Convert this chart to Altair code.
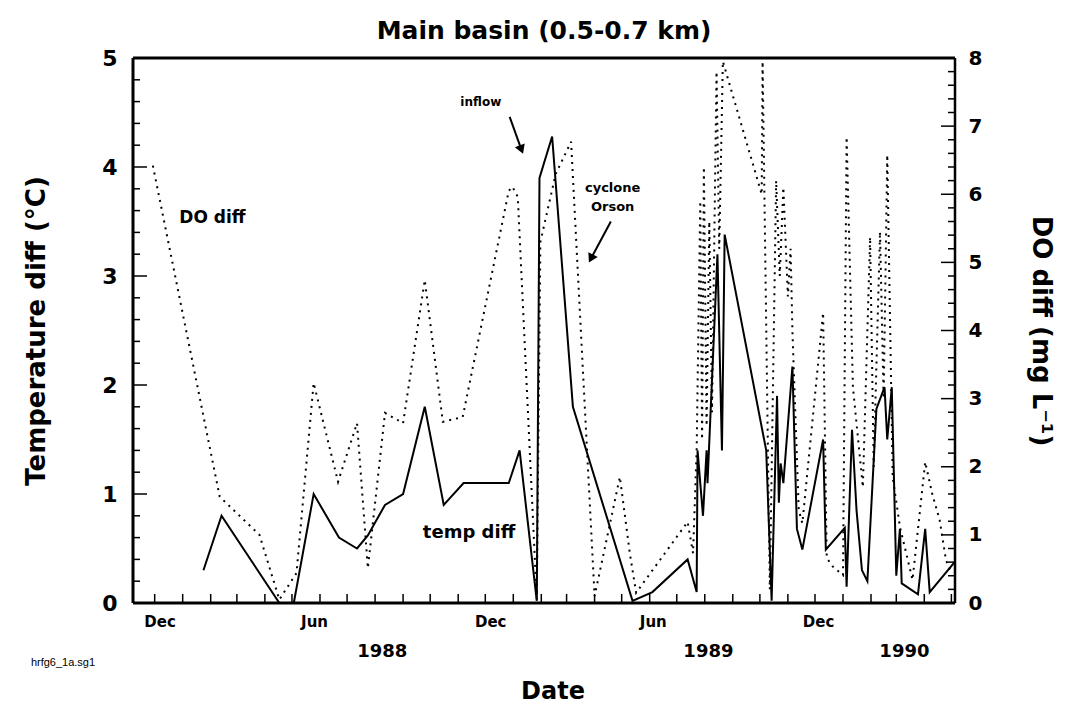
import altair as alt
import pandas as pd

# ---------------- data ----------------
temp_dates = ["1988-01-24", "1988-02-13", "1988-04-17", "1988-05-03", "1988-05-25",
              "1988-06-22", "1988-07-12", "1988-07-24", "1988-08-12", "1988-09-01",
              "1988-09-25", "1988-10-16", "1988-11-07", "1988-12-27", "1989-01-08",
              "1989-01-27", "1989-01-30", "1989-02-13", "1989-03-08", "1989-05-13",
              "1989-06-04", "1989-07-13", "1989-07-23", "1989-07-24", "1989-07-30",
              "1989-08-03", "1989-08-04", "1989-08-15", "1989-08-20", "1989-08-23",
              "1989-10-08", "1989-10-14", "1989-10-20", "1989-10-22", "1989-10-24",
              "1989-10-27", "1989-11-06", "1989-11-11", "1989-11-17", "1989-12-10",
              "1989-12-13", "1990-01-03", "1990-01-05", "1990-01-11", "1990-01-16",
              "1990-01-22", "1990-01-28", "1990-02-07", "1990-02-16", "1990-02-19",
              "1990-02-24", "1990-03-01", "1990-03-05", "1990-03-07", "1990-03-25",
              "1990-04-02", "1990-04-07", "1990-05-05"]
temp_vals = [0.3, 0.8, 0.0, 0.0, 1.0,
             0.6, 0.5, 0.62, 0.9, 1.0,
             1.8, 0.9, 1.1, 1.1, 1.4,
             0.02, 3.9, 4.28, 1.8, 0.02,
             0.1, 0.4, 0.1, 1.4, 0.8,
             1.4, 1.1, 3.2, 1.4, 3.38,
             1.4, 0.02, 1.9, 0.92, 1.28,
             1.1, 2.17, 0.68, 0.49, 1.5,
             0.49, 0.69, 0.15, 1.59, 0.85,
             0.3, 0.2, 1.78, 1.98, 1.5,
             1.98, 0.25, 0.68, 0.18, 0.08,
             0.68, 0.1, 0.38]

do_dates = ["1987-11-29", "1988-02-11", "1988-03-26", "1988-04-17", "1988-05-06",
            "1988-05-25", "1988-06-04", "1988-06-21", "1988-07-12", "1988-07-24",
            "1988-08-12", "1988-09-01", "1988-09-25", "1988-10-15", "1988-11-06",
            "1988-12-27", "1988-12-31", "1989-01-06", "1989-01-27", "1989-01-31",
            "1989-02-17", "1989-03-06", "1989-04-01", "1989-04-29", "1989-05-10",
            "1989-05-17", "1989-07-13", "1989-07-19", "1989-07-23", "1989-07-27",
            "1989-07-29", "1989-07-31", "1989-08-03", "1989-08-06", "1989-08-09",
            "1989-08-14", "1989-08-17", "1989-08-21", "1989-10-03", "1989-10-04",
            "1989-10-12", "1989-10-19", "1989-10-23", "1989-10-27", "1989-11-01",
            "1989-11-04", "1989-11-06", "1989-11-13", "1989-11-17", "1989-12-10",
            "1989-12-14", "1989-12-21", "1990-01-01", "1990-01-05", "1990-01-12",
            "1990-01-23", "1990-01-31", "1990-02-04", "1990-02-11", "1990-02-15",
            "1990-02-19", "1990-02-25", "1990-03-05", "1990-03-19", "1990-04-02",
            "1990-04-10", "1990-04-18", "1990-04-25", "1990-05-01"]
do_vals = [6.42, 1.56, 1.0, 0.05, 0.44,
           3.23, 2.69, 1.78, 2.64, 0.51,
           2.79, 2.64, 4.74, 2.66, 2.73,
           6.05, 6.11, 5.96, 0.05, 5.3,
           6.3, 6.77, 0.1, 1.85, 0.73,
           0.15, 1.19, 0.73, 2.25, 5.9,
           2.4, 6.4, 2.6, 5.6, 2.8,
           7.8, 5.2, 7.95, 6.0, 7.95,
           0.2, 6.2, 4.8, 6.1, 4.5,
           5.2, 4.0, 1.37, 1.17, 4.26,
           0.66, 0.53, 0.41, 6.84, 3.17,
           1.7, 5.37, 2.0, 5.45, 3.0,
           6.58, 1.85, 1.12, 0.34, 2.07,
           1.59, 1.22, 0.63, 0.44]

# axis labels / ticks
month_labels = ["Dec", "Jun", "Dec", "Jun", "Dec"]
month_label_dates = ["1987-12-07", "1988-05-26", "1988-12-07", "1989-06-05", "1989-12-05"]
year_labels = ["1988", "1989", "1990"]
year_label_dates = ["1988-08-09", "1989-08-05", "1990-03-10"]
left_major = [0, 1, 2, 3, 4, 5]
left_minor = [0.2, 0.4, 0.6, 0.8, 1.2, 1.4, 1.6, 1.8, 2.2, 2.4, 2.6, 2.8,
              3.2, 3.4, 3.6, 3.8, 4.2, 4.4, 4.6, 4.8]
right_major = [0, 1, 2, 3, 4, 5, 6, 7, 8]
right_minor = [0.2, 0.4, 0.6, 0.8, 1.2, 1.4, 1.6, 1.8, 2.2, 2.4, 2.6, 2.8,
               3.2, 3.4, 3.6, 3.8, 4.2, 4.4, 4.6, 4.8, 5.2, 5.4, 5.6, 5.8,
               6.2, 6.4, 6.6, 6.8, 7.2, 7.4, 7.6, 7.8]
month_tick_dates = ["1987-12-01", "1988-01-01", "1988-02-01", "1988-03-01", "1988-04-01",
                    "1988-05-01", "1988-06-01", "1988-07-01", "1988-08-01", "1988-09-01",
                    "1988-10-01", "1988-11-01", "1988-12-01", "1989-01-01", "1989-02-01",
                    "1989-03-01", "1989-04-01", "1989-05-01", "1989-06-01", "1989-07-01",
                    "1989-08-01", "1989-09-01", "1989-10-01", "1989-11-01", "1989-12-01",
                    "1990-01-01", "1990-02-01", "1990-03-01", "1990-04-01", "1990-05-01"]

# annotations
ann_labels = ["DO diff", "temp diff", "inflow", "cyclone", "Orson"]
ann_dates = ["1988-02-03", "1988-11-13", "1988-11-26", "1989-04-21", "1989-04-21"]
ann_vals = [3.53, 0.64, 4.6, 3.81, 3.63]
ann_sizes = [17, 18, 12, 13, 13]

arrow_tail_dates = ["1988-12-28", "1989-04-19"]
arrow_tail_vals = [4.46, 3.50]
arrow_head_dates = ["1989-01-10", "1989-03-28"]
arrow_head_vals = [4.16, 3.16]
arrow_angles = [339, 27]

# ---------------- chart ----------------
W, H = 822, 545
FONT = "DejaVu Sans"

temp_df = pd.DataFrame({"date": temp_dates, "temp": temp_vals})
do_df = pd.DataFrame({"date": do_dates, "do": do_vals})

x_scale = alt.Scale(type="utc", domain=[alt.DateTime(year=1987, month=11, date=7, utc=True),
                                        alt.DateTime(year=1990, month=5, date=5, utc=True)])
t_scale = alt.Scale(domain=[0, 5], nice=False)
d_scale = alt.Scale(domain=[0, 8], nice=False)

temp_line = alt.Chart(temp_df).mark_line(color="black", strokeWidth=2).encode(
    x=alt.X("date:T", scale=x_scale, axis=None),
    y=alt.Y("temp:Q", scale=t_scale,
            axis=alt.Axis(title="Temperature diff  (°C)", values=left_major, ticks=False,
                          domain=False, grid=False, labelPadding=16,
                          labelFont=FONT, labelFontSize=22, labelFontWeight="bold",
                          labelColor="black", titleFont=FONT, titleFontSize=26,
                          titleFontWeight="bold", titleColor="black", titlePadding=52)),
)

do_line = alt.Chart(do_df).mark_line(color="black", strokeWidth=2, strokeDash=[2, 5]).encode(
    x=alt.X("date:T", scale=x_scale, axis=None),
    y=alt.Y("do:Q", scale=d_scale,
            axis=alt.Axis(orient="right", title="DO diff  (mg L⁻¹)", values=right_major,
                          ticks=False, domain=False, grid=False, labelPadding=13,
                          labelFont=FONT, labelFontSize=20, labelFontWeight="bold",
                          labelColor="black", titleFont=FONT, titleFontSize=26,
                          titleFontWeight="bold", titleColor="black", titlePadding=46)),
)

ann_df = pd.DataFrame({"label": ann_labels, "date": ann_dates, "val": ann_vals, "fs": ann_sizes})
ann = alt.Chart(ann_df).mark_text(font=FONT, fontWeight="bold", color="black").encode(
    x=alt.X("date:T", scale=x_scale, axis=None),
    y=alt.Y("val:Q", scale=t_scale, axis=None),
    text="label:N",
    size=alt.Size("fs:Q", scale=None, legend=None),
)

arrow_df = pd.DataFrame({"d0": arrow_tail_dates, "v0": arrow_tail_vals,
                         "d1": arrow_head_dates, "v1": arrow_head_vals, "ang": arrow_angles})
shafts = alt.Chart(arrow_df).mark_rule(color="black", strokeWidth=2).encode(
    x=alt.X("d0:T", scale=x_scale, axis=None), x2="d1:T",
    y=alt.Y("v0:Q", scale=t_scale, axis=None), y2="v1:Q",
)
heads = alt.Chart(arrow_df).mark_point(shape="triangle-down", filled=True, color="black",
                                        size=110, opacity=1).encode(
    x=alt.X("d1:T", scale=x_scale, axis=None),
    y=alt.Y("v1:Q", scale=t_scale, axis=None),
    angle=alt.Angle("ang:Q", scale=None),
)

def yticks(vals, scale, x0, x1):
    return alt.Chart(pd.DataFrame({"v": vals})).mark_rule(color="black", strokeWidth=1.5).encode(
        y=alt.Y("v:Q", scale=scale, axis=None), x=alt.value(x0), x2=alt.value(x1))

lt_major = yticks(left_major, t_scale, 0, 14)
lt_minor = yticks(left_minor, t_scale, 0, 7)
rt_major = yticks(right_major, d_scale, W, W - 14)
rt_minor = yticks(right_minor, d_scale, W, W - 7)

xticks = alt.Chart(pd.DataFrame({"d": month_tick_dates})).mark_rule(
    color="black", strokeWidth=1.5).encode(
    x=alt.X("d:T", scale=x_scale, axis=None), y=alt.value(H), y2=alt.value(H - 9))

# plot frame (four sides)
frame_v = alt.Chart(pd.DataFrame({"s": ["l"]})).mark_rule(color="black", strokeWidth=3).encode(
    x=alt.value(0), y=alt.value(0), y2=alt.value(H))
frame_r = alt.Chart(pd.DataFrame({"s": ["r"]})).mark_rule(color="black", strokeWidth=2.5).encode(
    x=alt.value(W), y=alt.value(0), y2=alt.value(H))
frame_t = alt.Chart(pd.DataFrame({"s": ["t"]})).mark_rule(color="black", strokeWidth=3).encode(
    x=alt.value(0), x2=alt.value(W), y=alt.value(0))
frame_b = alt.Chart(pd.DataFrame({"s": ["b"]})).mark_rule(color="black", strokeWidth=3).encode(
    x=alt.value(0), x2=alt.value(W), y=alt.value(H))

mlab = alt.Chart(pd.DataFrame({"d": month_label_dates, "t": month_labels})).mark_text(
    font=FONT, fontSize=15, fontWeight="bold", color="black", baseline="middle").encode(
    x=alt.X("d:T", scale=x_scale, axis=None), y=alt.value(H + 19), text="t:N")

ylab = alt.Chart(pd.DataFrame({"d": year_label_dates, "t": year_labels})).mark_text(
    font=FONT, fontSize=18, fontWeight="bold", color="black", baseline="middle").encode(
    x=alt.X("d:T", scale=x_scale, axis=None), y=alt.value(H + 49), text="t:N")

xtitle = alt.Chart(pd.DataFrame({"t": ["Date"]})).mark_text(
    font=FONT, fontSize=24, fontWeight="bold", color="black", baseline="alphabetic").encode(
    x=alt.value(420), y=alt.value(H + 96), text="t:N")

foot = alt.Chart(pd.DataFrame({"t": ["hrfg6_1a.sg1"]})).mark_text(
    font="Liberation Sans", fontSize=11, color="black", baseline="middle").encode(
    x=alt.value(-70), y=alt.value(H + 60), text="t:N")

chart = alt.layer(
    temp_line, do_line, ann, shafts, heads,
    lt_major, lt_minor, rt_major, rt_minor, xticks,
    frame_v, frame_r, frame_t, frame_b,
    mlab, ylab, xtitle, foot,
).resolve_scale(y="independent").properties(
    width=W, height=H,
    title=alt.TitleParams("Main basin (0.5-0.7 km)", font=FONT, fontSize=25,
                          fontWeight="bold", color="black", offset=3, anchor="middle"),
    padding={"left": 133, "top": 58, "right": 1084 - 133 - W, "bottom": 704 - 58 - H},
    autosize=alt.AutoSizeParams(type="none"),
).configure_view(stroke=None).configure(background="white")

chart.save("out.html", embed_options={"renderer": "svg", "actions": False})
